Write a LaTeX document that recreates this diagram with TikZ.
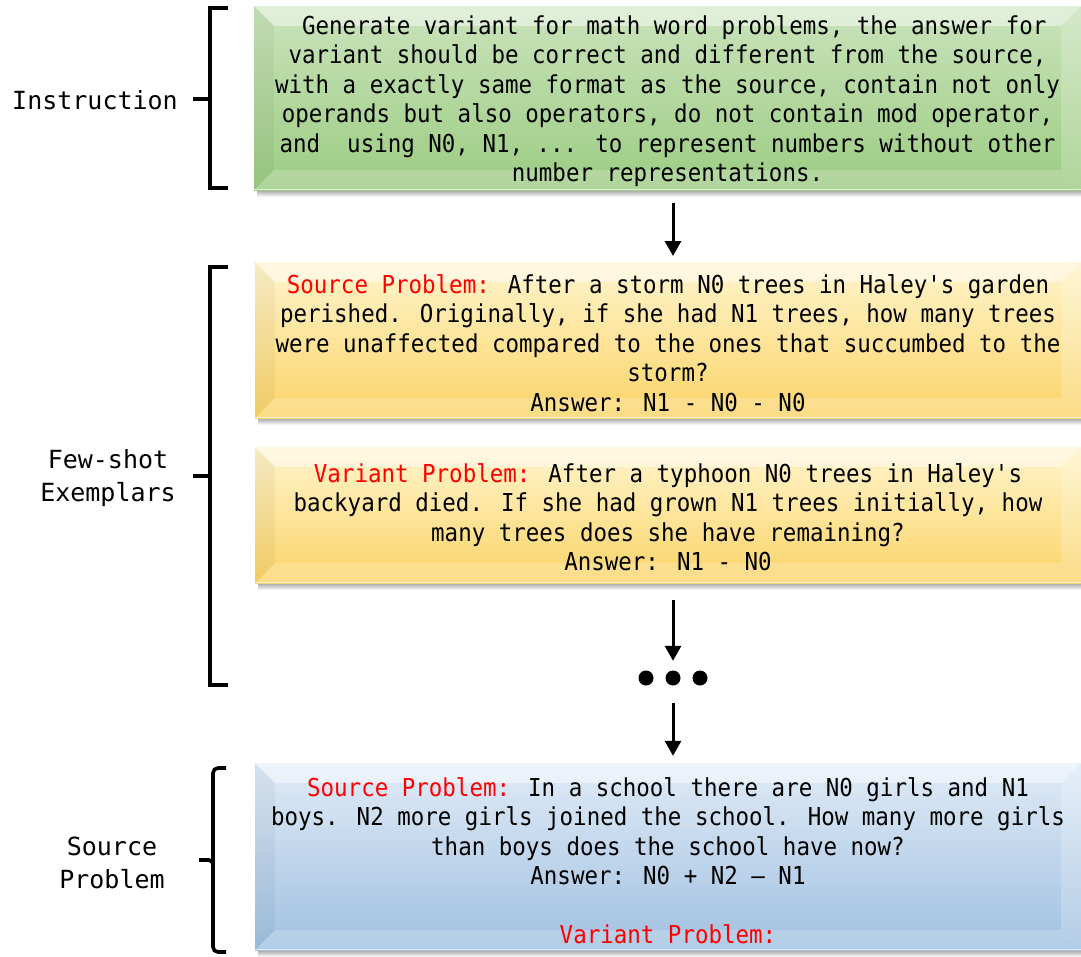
\documentclass[tikz,border=0pt]{standalone}
\usepackage{fontspec}
\usetikzlibrary{arrows.meta,calc,fit}
\newfontfamily\boxfont[FakeStretch=0.91]{DejaVu Sans Mono}
\newfontfamily\labfont{DejaVu Sans Mono}
\definecolor{gTop}{RGB}{202,227,188}
\definecolor{gBot}{RGB}{156,204,130}
\definecolor{yTop}{RGB}{255,244,204}
\definecolor{yBot}{RGB}{250,212,104}
\definecolor{bTop}{RGB}{224,235,247}
\definecolor{bBot}{RGB}{160,192,224}
\newcommand\bevbox[7]{%
  \fill[top color=black!35, bottom color=white] (#2+3,#5) rectangle (#4,#5+7);
  \node[fit={(#2,#3) (#4,#5)}, inner sep=0pt, top color=#6, bottom color=#7] (#1) {};
  \fill[white,opacity=0.45] (#1.north west) -- (#1.north east) -- ($(#1.north east)+(-20,20)$) -- ($(#1.north west)+(20,20)$) -- cycle;
  \fill[black,opacity=0.04] (#1.north west) -- ($(#1.north west)+(20,20)$) -- ($(#1.south west)+(20,-20)$) -- (#1.south west) -- cycle;
  \fill[white,opacity=0.2] (#1.north east) -- ($(#1.north east)+(-20,20)$) -- ($(#1.south east)+(-20,-20)$) -- (#1.south east) -- cycle;
  \fill[white,opacity=0.2] (#1.south west) -- ($(#1.south west)+(20,-20)$) -- ($(#1.south east)+(-20,-20)$) -- (#1.south east) -- cycle;
  \draw[white,opacity=0.6,line width=1.2pt] ($(#1.south west)+(0,-1)$) -- ($(#1.south east)+(0,-1)$);
}
\begin{document}
\begin{tikzpicture}[x=1pt,y=-1pt,
  btext/.style={font=\boxfont\fontsize{24.7pt}{29.5pt}\selectfont, align=center, inner sep=0pt, text=black},
  lab/.style={font=\labfont\fontsize{25pt}{32.5pt}\selectfont, align=center, inner sep=0pt},
  brk/.style={line width=3.6pt, line cap=butt},
  arr/.style={line width=3pt, -{Triangle[width=16pt,length=15pt]}}]
\useasboundingbox (0,0) rectangle (1081,956);
\fill[white] (0,0) rectangle (1081,956);

\bevbox{ins}{254}{6}{1081}{190}{gTop}{gBot}
\bevbox{src}{255}{262}{1081}{418}{yTop}{yBot}
\bevbox{var}{255}{447}{1081}{583}{yTop}{yBot}
\bevbox{qry}{255}{763}{1081}{950}{bTop}{bBot}

\node[btext] (tins) at ($(ins.center)+(0,3)$) {\hphantom{x}Generate variant for math word problems, the answer for\\variant should be correct and different from the source,\\with a exactly same format as the source, contain not only\\operands but also operators, do not contain mod operator,\\and\ \ using N0, N1, ... to represent numbers without other\\number representations.};
\node[btext] (tsrc) at ($(src.center)+(0,3)$) {\textcolor{red}{Source Problem:} After a storm N0 trees in Haley's garden\\perished. Originally, if she had N1 trees, how many trees\\were unaffected compared to the ones that succumbed to the\\storm?\\Answer: N1 - N0 - N0};
\node[btext] (tvar) at ($(var.center)+(0,2)$) {\textcolor{red}{Variant Problem:} After a typhoon N0 trees in Haley's\\backyard died. If she had grown N1 trees initially, how\\many trees does she have remaining?\\Answer: N1 - N0};
\node[btext] (tqry) at ($(qry.center)+(0,4)$) {\textcolor{red}{Source Problem:} In a school there are N0 girls and N1\\boys. N2 more girls joined the school. How many more girls\\than boys does the school have now?\\Answer: N0 + N2 – N1\\[29.5pt]\textcolor{red}{Variant Problem:}};

% labels
\node[lab] (linst) at (95,100) {Instruction};
\node[lab] (lfew) at (108,478) {Few-shot\\Exemplars};
\node[lab] (lsrc) at (112,863) {Source\\Problem};

% brackets
\draw[brk] (228,8) -- (210,8) -- (210,188) -- (228,188);
\draw[brk] (193,99) -- (210,99);
\draw[brk] (228,267) -- (210,267) -- (210,685) -- (228,685);
\draw[brk] (193,476) -- (210,476);
\draw[brk, rounded corners=5pt] (226,768) -- (213,768) -- (213,952) -- (226,952);
\draw[brk, rounded corners=2pt] (199,860) -- (211,860) -- (213,864);

% arrows and dots
\coordinate (a1s) at (673,203);
\coordinate (a1e) at (673,256);
\draw[arr] (a1s) -- (a1e);
\node[inner sep=0pt, minimum width=70pt, minimum height=16pt] (dots) at (673,678) {};
\fill (dots.center) circle (7.5pt);
\fill ($(dots.center)+(-27,0)$) circle (7.5pt);
\fill ($(dots.center)+(27,0)$) circle (7.5pt);
\draw[arr] (var.south -| dots.north) ++(0,17) -- ($(dots.north)+(0,-9)$);
\draw[arr] ($(dots.south)+(0,17)$) -- ($(qry.north -| dots.south)+(0,-7)$);
\end{tikzpicture}
\end{document}
